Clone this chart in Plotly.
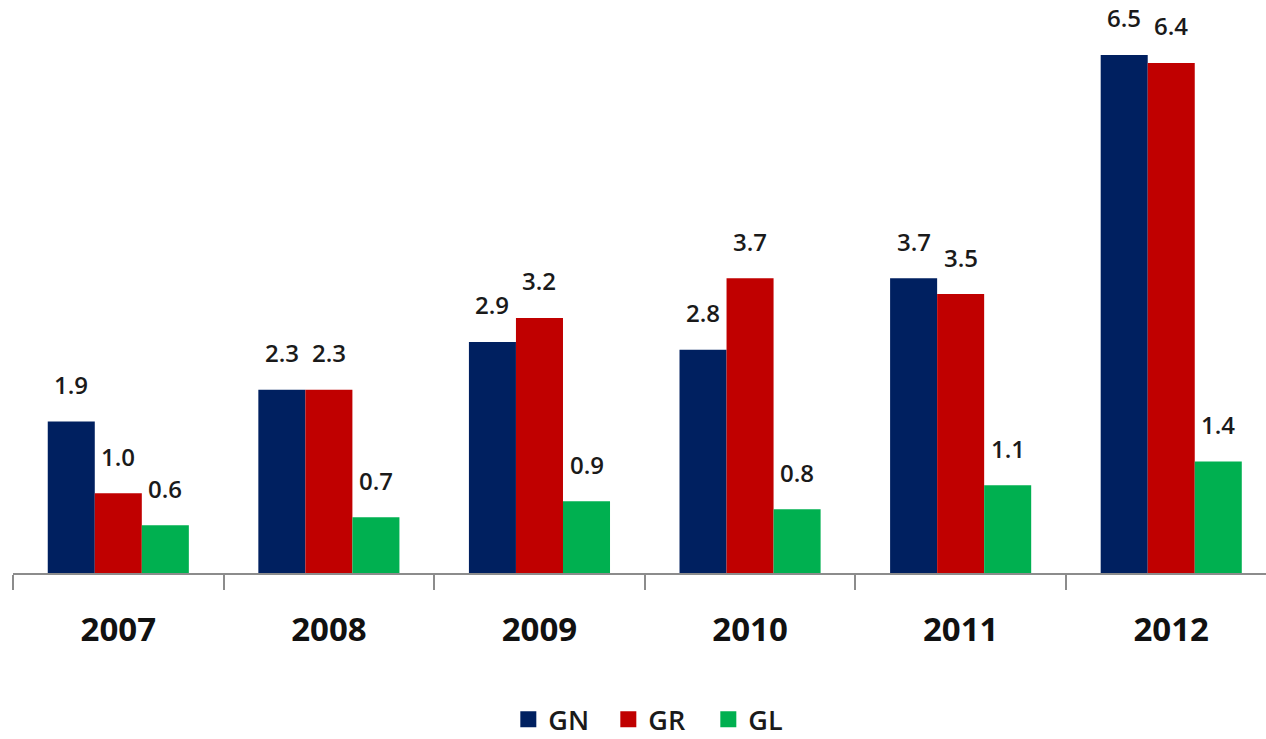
import plotly.graph_objects as go

years = ["2007", "2008", "2009", "2010", "2011", "2012"]
gn = [1.9, 2.3, 2.9, 2.8, 3.7, 6.5]
gr = [1.0, 2.3, 3.2, 3.7, 3.5, 6.4]
gl = [0.6, 0.7, 0.9, 0.8, 1.1, 1.4]

series = [("GN", gn, "#002060"), ("GR", gr, "#C00000"), ("GL", gl, "#00B050")]

fig = go.Figure()
for name, vals, col in series:
    fig.add_trace(go.Bar(x=years, y=vals, name=name, showlegend=False,
                         marker=dict(color=col, line=dict(width=0))))
# legend entries with larger square swatches
for name, vals, col in series:
    fig.add_trace(go.Scatter(x=[None], y=[None], mode="markers", name=name,
                             marker=dict(symbol="square", size=16, color=col)))

bargap = 0.33
bw = (1 - bargap) / len(series)
annotations = []
for k, (name, vals, col) in enumerate(series):
    off = (k - (len(series) - 1) / 2) * bw
    for i, v in enumerate(vals):
        annotations.append(dict(
            x=i + off, y=v, xref="x", yref="y", text=f"{v:.1f}", showarrow=False,
            yanchor="middle", yshift=37,
            font=dict(family="Open Sans", size=24, color="#1a1a1a", weight=600),
        ))

fig.update_layout(
    width=1266, height=739,
    margin=dict(l=13, r=0, t=0, b=166),
    paper_bgcolor="white", plot_bgcolor="white",
    barmode="group", bargap=bargap, bargroupgap=0,
    showlegend=True,
    legend=dict(orientation="h", xref="container", x=0.52, xanchor="center",
                yref="container", y=0.026, yanchor="middle",
                font=dict(family="Open Sans", size=27, color="#1a1a1a", weight=600),
                itemwidth=30, entrywidth=55, entrywidthmode="pixels", traceorder="normal"),
    annotations=annotations,
    xaxis=dict(type="category", range=[-0.5, 5.45], showline=True, linecolor="#8c8c8c",
               linewidth=1.5, ticks="outside", tickson="boundaries", ticklen=15,
               tickcolor="#8c8c8c", tickwidth=1.5, showgrid=False, zeroline=False,
               tickfont=dict(family="Open Sans", size=33, color="#111111", weight="bold"),
               ticklabelstandoff=27),
    yaxis=dict(range=[0, 7.19], visible=False, showgrid=False, zeroline=False),
)

fig.write_html("out.html", config={"displayModeBar": False},
               post_script="document.body.style.margin='0';")
